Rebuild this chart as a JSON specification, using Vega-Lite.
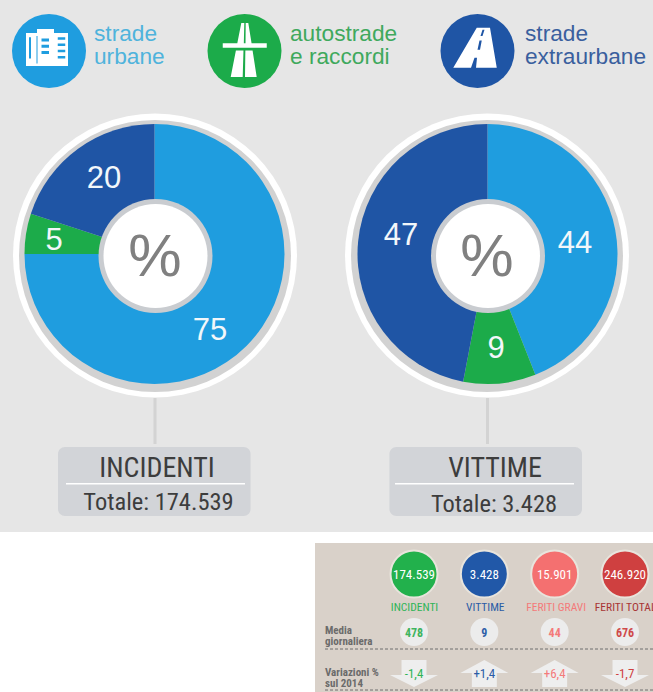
{
"$schema":"https://vega.github.io/schema/vega-lite/v6.json",
"width":653,"height":692,"padding":0,"autosize":{"type":"fit","contains":"padding"},"background":"white",
"config":{"view":{"stroke":null}},
"resolve":{"scale":{"x":"independent","y":"independent","color":"independent","shape":"independent"}},
"datasets":{
"strade":[
{"strada":"strade urbane","ordine":1,"etichetta":"strade\nurbane"},
{"strada":"autostrade e raccordi","ordine":2,"etichetta":"autostrade\ne raccordi"},
{"strada":"strade extraurbane","ordine":3,"etichetta":"strade\nextraurbane"}],
"quote":[
{"pannello":"INCIDENTI","strada":"strade urbane","ordine":1,"valore":75},
{"pannello":"INCIDENTI","strada":"autostrade e raccordi","ordine":2,"valore":5},
{"pannello":"INCIDENTI","strada":"strade extraurbane","ordine":3,"valore":20},
{"pannello":"VITTIME","strada":"strade urbane","ordine":1,"valore":44},
{"pannello":"VITTIME","strada":"autostrade e raccordi","ordine":2,"valore":9},
{"pannello":"VITTIME","strada":"strade extraurbane","ordine":3,"valore":47}],
"pannelli":[
{"pannello":"INCIDENTI","totale":"Totale: 174.539","unita":"%"},
{"pannello":"VITTIME","totale":"Totale: 3.428","unita":"%"}],
"kpi":[
{"metrica":"INCIDENTI","totale":"174.539","media":"478","variazione":"-1,4","verso":"giu"},
{"metrica":"VITTIME","totale":"3.428","media":"9","variazione":"+1,4","verso":"su"},
{"metrica":"FERITI GRAVI","totale":"15.901","media":"44","variazione":"+6,4","verso":"su"},
{"metrica":"FERITI TOTALI","totale":"246.920","media":"676","variazione":"-1,7","verso":"giu"}],
"righe":[
{"riga":"Media giornaliera","etichetta":"Media\ngiornaliera"},
{"riga":"Variazioni % sul 2014","etichetta":"Variazioni %\nsul 2014"}]
},
"layer":[
{"data":{"values":[{"sezione":"tipi di strada"}]},"mark":{"type":"rect","fill":"#e6e6e6"},
 "encoding":{"x":{"datum":0,"type":"quantitative","scale":{"domain":[0,1],"range":[0,653]},"axis":null},"x2":{"datum":1},
 "y":{"datum":0,"type":"quantitative","scale":{"domain":[0,1],"range":[0,532]},"axis":null},"y2":{"datum":1}}},
{"data":{"values":[{"sezione":"riepilogo"}]},"mark":{"type":"rect","fill":"#d9d1c9"},
 "encoding":{"x":{"datum":0,"type":"quantitative","scale":{"domain":[0,1],"range":[315,653]},"axis":null},"x2":{"datum":1},
 "y":{"datum":0,"type":"quantitative","scale":{"domain":[0,1],"range":[543,692]},"axis":null},"y2":{"datum":1}}},

{"data":{"name":"strade"},"mark":{"type":"point","filled":true,"size":5476,"opacity":1,"shape":"circle"},
 "encoding":{"x":{"field":"ordine","type":"quantitative","scale":{"domain":[1,2,3],"range":[49,244.5,477.5],"zero":false,"nice":false},"axis":null},
 "y":{"field":"strada","type":"nominal","scale":{"type":"point","domain":["strade urbane","autostrade e raccordi","strade extraurbane"],"range":[51,51],"padding":0},"axis":null},
 "color":{"field":"strada","type":"nominal","scale":{"domain":["strade urbane","autostrade e raccordi","strade extraurbane"],"range":["#1f9ddf","#1cab4a","#1f55a5"]},"legend":null}}},
{"data":{"name":"strade"},"mark":{"type":"point","filled":true,"size":2500,"opacity":1,"fill":"white","stroke":null},
 "encoding":{"x":{"field":"ordine","type":"quantitative","scale":{"domain":[1,2,3],"range":[49,244.5,477.5],"zero":false,"nice":false},"axis":null},
 "y":{"field":"strada","type":"nominal","scale":{"type":"point","domain":["strade urbane","autostrade e raccordi","strade extraurbane"],"range":[51,51],"padding":0},"axis":null},
 "shape":{"field":"strada","type":"nominal","scale":{"domain":["strade urbane","autostrade e raccordi","strade extraurbane"],"range":[
 "M-.92 -.72 H-.48 V-.88 H.2 V-.72 H.76 V.6 H-.92 Z M-.8 -.55 V.3 H-.72 V-.55 Z M-.5 -.6 V.5 H-.46 V-.6 Z M-.3 -.5 V-.38 H0 V-.5 Z M-.3 -.25 V-.13 H0 V-.25 Z M-.3 0 V.12 H0 V0 Z M.35 -.55 V-.45 H.65 V-.55 Z M.35 -.3 V-.2 H.65 V-.3 Z M.35 -.05 V.05 H.65 V-.05 Z M.35 .2 V.3 H.65 V.2 Z",
 "M-.344 -.02 L-.041 -.02 L-.072 1.04 L-.552 1.04 Z M.034 -.02 L.323 -.02 L.488 1.04 L.02 1.04 Z M-.128 -1.12 L-.008 -1.12 L-.03 -.2 L-.31 -.2 Z M.048 -1.12 L.152 -1.12 L.3 -.2 L.04 -.2 Z M-.87 -.31 H.89 V-.13 H-.87 Z",
 "M-.03 -.93 L.5 -.93 L.77 .67 L-.06 .67 L-.02 .27 L-.12 .27 L-.26 .67 L-.97 .67 Z M.2 -.85 L.12 -.6 L.2 -.6 L.28 -.85 Z M.08 -.42 L0 -.05 L.1 -.05 L.17 -.42 Z"]},"legend":null}}},
{"data":{"name":"strade"},"mark":{"type":"text","font":"Liberation Sans","fontSize":22.7,"align":"left","baseline":"alphabetic","lineBreak":"\n","lineHeight":22.5},
 "encoding":{"x":{"field":"ordine","type":"quantitative","scale":{"domain":[1,2,3],"range":[94,290,525],"zero":false,"nice":false},"axis":null},
 "y":{"field":"strada","type":"nominal","scale":{"type":"point","domain":["strade urbane","autostrade e raccordi","strade extraurbane"],"range":[41,41],"padding":0},"axis":null},
 "text":{"field":"etichetta","type":"nominal"},
 "color":{"field":"strada","type":"nominal","scale":{"domain":["strade urbane","autostrade e raccordi","strade extraurbane"],"range":["#4fb3dc","#3fa95d","#3a5f9e"]},"legend":null}}},

{"data":{"name":"pannelli"},"mark":{"type":"point","filled":true,"shape":"circle","size":80656,"opacity":1,"fill":"#ffffff","stroke":null},
 "encoding":{"x":{"field":"pannello","type":"nominal","scale":{"type":"point","domain":["INCIDENTI","VITTIME"],"range":[155,487],"padding":0},"axis":null},
 "y":{"field":"pannello","type":"nominal","scale":{"type":"point","domain":["INCIDENTI","VITTIME"],"range":[255.5,255.5],"padding":0},"axis":null}}},
{"data":{"name":"pannelli"},"mark":{"type":"point","filled":true,"shape":"circle","size":73984,"opacity":1,"fill":"#d2d2d2","stroke":null},
 "encoding":{"x":{"field":"pannello","type":"nominal","scale":{"type":"point","domain":["INCIDENTI","VITTIME"],"range":[155,487],"padding":0},"axis":null},
 "y":{"field":"pannello","type":"nominal","scale":{"type":"point","domain":["INCIDENTI","VITTIME"],"range":[256,256],"padding":0},"axis":null}}},
{"data":{"name":"quote"},"transform":[{"stack":"valore","groupby":["pannello"],"sort":[{"field":"ordine","order":"ascending"}],"as":["v0","v1"]}],
 "mark":{"type":"arc","outerRadius":130,"innerRadius":0},
 "encoding":{"x":{"field":"pannello","type":"nominal","scale":{"type":"point","domain":["INCIDENTI","VITTIME"],"range":[154.5,487.5],"padding":0},"axis":null},
 "y":{"field":"pannello","type":"nominal","scale":{"type":"point","domain":["INCIDENTI","VITTIME"],"range":[254,254],"padding":0},"axis":null},
 "theta":{"field":"v0","type":"quantitative","scale":{"domain":[0,100]}},"theta2":{"field":"v1"},
 "color":{"field":"strada","type":"nominal","scale":{"domain":["strade urbane","autostrade e raccordi","strade extraurbane"],"range":["#1f9ddf","#1cab4a","#1f55a5"]},"legend":null}}},
{"data":{"name":"pannelli"},"mark":{"type":"point","filled":true,"shape":"circle","size":12996,"opacity":1,"fill":"#c9ccd0","stroke":null},
 "encoding":{"x":{"field":"pannello","type":"nominal","scale":{"type":"point","domain":["INCIDENTI","VITTIME"],"range":[155.5,488],"padding":0},"axis":null},
 "y":{"field":"pannello","type":"nominal","scale":{"type":"point","domain":["INCIDENTI","VITTIME"],"range":[256,256],"padding":0},"axis":null}}},
{"data":{"name":"pannelli"},"mark":{"type":"point","filled":true,"shape":"circle","size":10816,"opacity":1,"fill":"#ffffff","stroke":null},
 "encoding":{"x":{"field":"pannello","type":"nominal","scale":{"type":"point","domain":["INCIDENTI","VITTIME"],"range":[155.5,488],"padding":0},"axis":null},
 "y":{"field":"pannello","type":"nominal","scale":{"type":"point","domain":["INCIDENTI","VITTIME"],"range":[256,256],"padding":0},"axis":null}}},
{"data":{"name":"pannelli"},"mark":{"type":"text","font":"Liberation Sans","fontSize":60,"fill":"#808080","align":"center","baseline":"middle"},
 "encoding":{"x":{"field":"pannello","type":"nominal","scale":{"type":"point","domain":["INCIDENTI","VITTIME"],"range":[155,487],"padding":0},"axis":null},
 "y":{"field":"pannello","type":"nominal","scale":{"type":"point","domain":["INCIDENTI","VITTIME"],"range":[258,258],"padding":0},"axis":null},
 "text":{"field":"unita","type":"nominal"}}},
{"data":{"name":"quote"},"mark":{"type":"text","font":"Liberation Sans","fontSize":31,"fill":"#f2f7fa","align":"center","baseline":"middle"},
 "encoding":{"x":{"field":"valore","type":"quantitative","scale":{"domain":[5,9,20,44,47,75],"range":[54,496,104,575,401,210],"zero":false,"nice":false},"axis":null},
 "y":{"field":"valore","type":"quantitative","scale":{"domain":[5,9,20,44,47,75],"range":[241,349,179,244,236,331],"zero":false,"nice":false},"axis":null},
 "text":{"field":"valore","type":"quantitative","format":"d"}}},

{"data":{"name":"pannelli"},"mark":{"type":"rect","fill":"#d3d3d3"},
 "encoding":{"x":{"field":"pannello","type":"nominal","scale":{"type":"band","domain":["INCIDENTI","VITTIME"],"range":[153.5,489],"paddingInner":0.991,"paddingOuter":0},"axis":null},
 "y":{"datum":0,"type":"quantitative","scale":{"domain":[0,1],"range":[398,444]},"axis":null},"y2":{"datum":1}}},
{"data":{"name":"pannelli"},"mark":{"type":"rect","fill":"#d2d4d8","cornerRadius":7},
 "encoding":{"x":{"field":"pannello","type":"nominal","scale":{"type":"band","domain":["INCIDENTI","VITTIME"],"range":[58,582],"paddingInner":0.419,"paddingOuter":0},"axis":null},
 "y":{"datum":0,"type":"quantitative","scale":{"domain":[0,1],"range":[447,516]},"axis":null},"y2":{"datum":1}}},
{"data":{"name":"pannelli"},"mark":{"type":"rect","fill":"#ffffff"},
 "encoding":{"x":{"field":"pannello","type":"nominal","scale":{"type":"band","domain":["INCIDENTI","VITTIME"],"range":[66,574],"paddingInner":0.456,"paddingOuter":0},"axis":null},
 "y":{"datum":0,"type":"quantitative","scale":{"domain":[0,1],"range":[483,484.5]},"axis":null},"y2":{"datum":1}}},
{"data":{"name":"pannelli"},"mark":{"type":"text","font":"Roboto Condensed, DejaVu Sans Condensed, Roboto","fontSize":28,"fill":"#3d3d3d","align":"center","baseline":"alphabetic"},
 "encoding":{"x":{"field":"pannello","type":"nominal","scale":{"type":"point","domain":["INCIDENTI","VITTIME"],"range":[157,495],"padding":0},"axis":null},
 "y":{"field":"pannello","type":"nominal","scale":{"type":"point","domain":["INCIDENTI","VITTIME"],"range":[477,477],"padding":0},"axis":null},
 "text":{"field":"pannello","type":"nominal"}}},
{"data":{"name":"pannelli"},"mark":{"type":"text","font":"Roboto Condensed, DejaVu Sans Condensed, Roboto","fontSize":24.5,"fill":"#3d3d3d","align":"center","baseline":"alphabetic"},
 "encoding":{"x":{"field":"pannello","type":"nominal","scale":{"type":"point","domain":["INCIDENTI","VITTIME"],"range":[158.5,494],"padding":0},"axis":null},
 "y":{"field":"pannello","type":"nominal","scale":{"type":"point","domain":["INCIDENTI","VITTIME"],"range":[510,512],"padding":0},"axis":null},
 "text":{"field":"totale","type":"nominal"}}},

{"data":{"name":"kpi"},"mark":{"type":"point","filled":true,"shape":"circle","size":2209,"opacity":1,"stroke":"#e8e4dc","strokeWidth":2},
 "encoding":{"x":{"field":"metrica","type":"nominal","scale":{"type":"point","domain":["INCIDENTI","VITTIME","FERITI GRAVI","FERITI TOTALI"],"range":[414,625],"padding":0},"axis":null},
 "y":{"field":"metrica","type":"nominal","scale":{"type":"point","domain":["INCIDENTI","VITTIME","FERITI GRAVI","FERITI TOTALI"],"range":[574,574],"padding":0},"axis":null},
 "color":{"field":"metrica","type":"nominal","scale":{"domain":["INCIDENTI","VITTIME","FERITI GRAVI","FERITI TOTALI"],"range":["#22b14c","#2158a8","#f47070","#cf4040"]},"legend":null}}},
{"data":{"name":"kpi"},"mark":{"type":"text","font":"Roboto Condensed, DejaVu Sans Condensed, Roboto","fontSize":13,"fill":"#ffffff","align":"center","baseline":"middle"},
 "encoding":{"x":{"field":"metrica","type":"nominal","scale":{"type":"point","domain":["INCIDENTI","VITTIME","FERITI GRAVI","FERITI TOTALI"],"range":[414,625],"padding":0},"axis":null},
 "y":{"field":"metrica","type":"nominal","scale":{"type":"point","domain":["INCIDENTI","VITTIME","FERITI GRAVI","FERITI TOTALI"],"range":[574.5,574.5],"padding":0},"axis":null},
 "text":{"field":"totale","type":"nominal"}}},
{"data":{"name":"kpi"},"mark":{"type":"text","font":"Roboto Condensed, DejaVu Sans Condensed, Roboto","fontSize":11.5,"align":"center","baseline":"middle"},
 "encoding":{"x":{"field":"metrica","type":"nominal","scale":{"type":"point","domain":["INCIDENTI","VITTIME","FERITI GRAVI","FERITI TOTALI"],"range":[414.5,627],"padding":0},"axis":null},
 "y":{"field":"metrica","type":"nominal","scale":{"type":"point","domain":["INCIDENTI","VITTIME","FERITI GRAVI","FERITI TOTALI"],"range":[607.5,607.5],"padding":0},"axis":null},
 "text":{"field":"metrica","type":"nominal"},
 "color":{"field":"metrica","type":"nominal","scale":{"domain":["INCIDENTI","VITTIME","FERITI GRAVI","FERITI TOTALI"],"range":["#2fb457","#2b5ca6","#f47a7a","#a83535"]},"legend":null}}},
{"data":{"name":"kpi"},"mark":{"type":"point","filled":true,"shape":"circle","size":784,"opacity":1,"fill":"#ececec","stroke":null},
 "encoding":{"x":{"field":"metrica","type":"nominal","scale":{"type":"point","domain":["INCIDENTI","VITTIME","FERITI GRAVI","FERITI TOTALI"],"range":[414,625],"padding":0},"axis":null},
 "y":{"field":"metrica","type":"nominal","scale":{"type":"point","domain":["INCIDENTI","VITTIME","FERITI GRAVI","FERITI TOTALI"],"range":[632,632],"padding":0},"axis":null}}},
{"data":{"name":"kpi"},"mark":{"type":"text","font":"Roboto Condensed, DejaVu Sans Condensed, Roboto","fontSize":12,"fontWeight":"bold","align":"center","baseline":"middle"},
 "encoding":{"x":{"field":"metrica","type":"nominal","scale":{"type":"point","domain":["INCIDENTI","VITTIME","FERITI GRAVI","FERITI TOTALI"],"range":[414,625],"padding":0},"axis":null},
 "y":{"field":"metrica","type":"nominal","scale":{"type":"point","domain":["INCIDENTI","VITTIME","FERITI GRAVI","FERITI TOTALI"],"range":[632.5,632.5],"padding":0},"axis":null},
 "text":{"field":"media","type":"nominal"},
 "color":{"field":"metrica","type":"nominal","scale":{"domain":["INCIDENTI","VITTIME","FERITI GRAVI","FERITI TOTALI"],"range":["#3fb45f","#2f5fa8","#f47a7a","#cf4a4a"]},"legend":null}}},
{"data":{"name":"kpi"},"mark":{"type":"point","filled":true,"size":2304,"opacity":1,"fill":"#eeeeee","stroke":null},
 "encoding":{"x":{"field":"metrica","type":"nominal","scale":{"type":"point","domain":["INCIDENTI","VITTIME","FERITI GRAVI","FERITI TOTALI"],"range":[414,625],"padding":0},"axis":null},
 "y":{"field":"metrica","type":"nominal","scale":{"type":"point","domain":["INCIDENTI","VITTIME","FERITI GRAVI","FERITI TOTALI"],"range":[673.5,673.5],"padding":0},"axis":null},
 "shape":{"field":"verso","type":"nominal","scale":{"domain":["giu","su"],"range":["M-.52 -.56 H.52 V.06 H1 L0 .56 L-1 .06 H-.52 Z","M0 -.56 L1 -.02 H.52 V.56 H-.52 V-.02 H-1 Z"]},"legend":null}}},
{"data":{"name":"kpi"},"mark":{"type":"text","font":"Roboto Condensed, DejaVu Sans Condensed, Roboto","fontSize":13,"align":"center","baseline":"middle"},
 "encoding":{"x":{"field":"metrica","type":"nominal","scale":{"type":"point","domain":["INCIDENTI","VITTIME","FERITI GRAVI","FERITI TOTALI"],"range":[414,625],"padding":0},"axis":null},
 "y":{"field":"metrica","type":"nominal","scale":{"type":"point","domain":["INCIDENTI","VITTIME","FERITI GRAVI","FERITI TOTALI"],"range":[674,674],"padding":0},"axis":null},
 "text":{"field":"variazione","type":"nominal"},
 "color":{"field":"metrica","type":"nominal","scale":{"domain":["INCIDENTI","VITTIME","FERITI GRAVI","FERITI TOTALI"],"range":["#2fb457","#2b5ca6","#f47a7a","#cf4040"]},"legend":null}}},
{"data":{"name":"righe"},"mark":{"type":"text","font":"Roboto Condensed, DejaVu Sans Condensed, Roboto","fontSize":11,"fontWeight":"bold","fill":"#6b6b6b","align":"left","baseline":"middle","lineBreak":"\n","lineHeight":11},
 "encoding":{"x":{"field":"riga","type":"nominal","scale":{"type":"point","domain":["Media giornaliera","Variazioni % sul 2014"],"range":[325,325],"padding":0},"axis":null},
 "y":{"field":"riga","type":"nominal","scale":{"type":"point","domain":["Media giornaliera","Variazioni % sul 2014"],"range":[630.5,672.5],"padding":0},"axis":null},
 "text":{"field":"etichetta","type":"nominal"}}},
{"data":{"name":"righe"},"mark":{"type":"rule","stroke":"#6f6f6f","strokeWidth":1,"strokeDash":[3,2]},
 "encoding":{"x":{"datum":0,"type":"quantitative","scale":{"domain":[0,1],"range":[325,653]},"axis":null},"x2":{"datum":1},
 "y":{"field":"riga","type":"nominal","scale":{"type":"point","domain":["Media giornaliera","Variazioni % sul 2014"],"range":[649,690],"padding":0},"axis":null}}}
]
}
